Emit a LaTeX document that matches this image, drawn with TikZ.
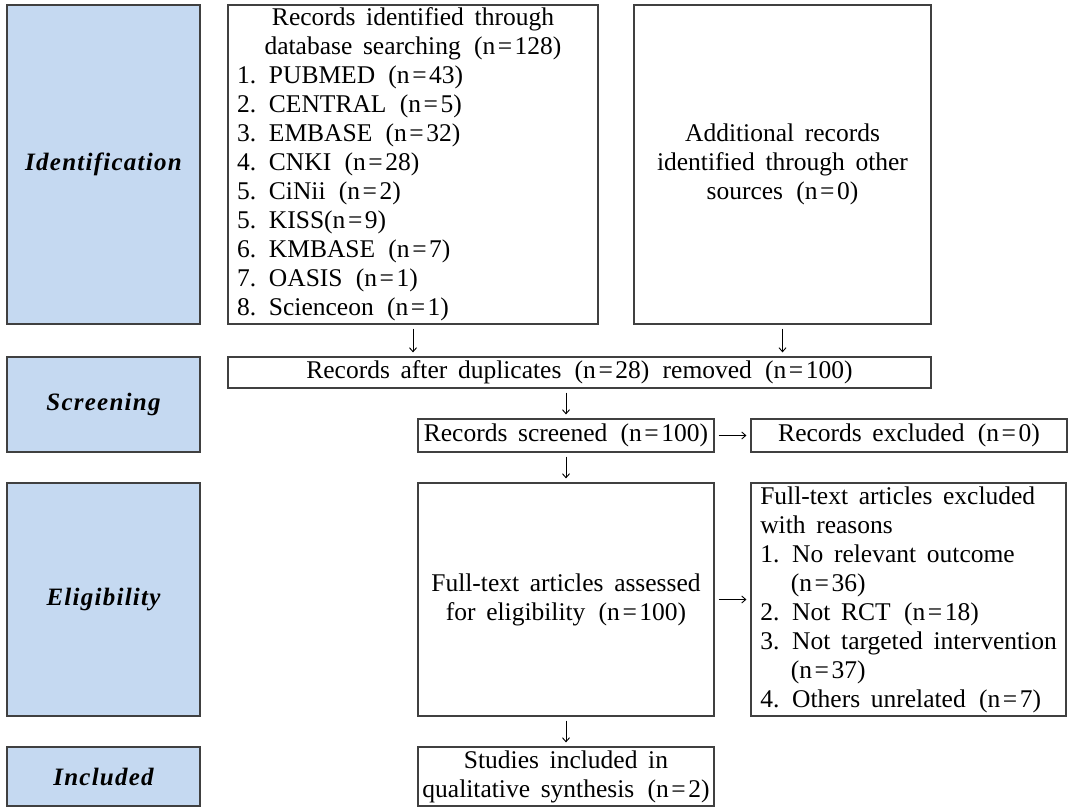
\documentclass[tikz,border=0pt]{standalone}
\usepackage{fontspec}
\setmainfont{Liberation Serif}
\newfontfamily\labfont[LetterSpace=5]{Liberation Serif}
\usetikzlibrary{arrows.meta}
\definecolor{labfill}{HTML}{C5D9F1}
\definecolor{edgegray}{HTML}{404040}
\newcommand\nv[1]{\hspace{.1em}(n\hspace{.1em}=\hspace{.1em}#1)}
\newcommand\nvq[1]{(n\hspace{.1em}=\hspace{.1em}#1)}
\begin{document}
\begin{tikzpicture}[x=1pt,y=-1pt,
  box/.style={draw=edgegray, line width=1.2pt, fill=white, inner sep=0pt,
    font={\fontsize{25.5}{29}\selectfont\spaceskip=.42em\relax}, align=center},
  lab/.style={draw=edgegray, line width=1.2pt, fill=labfill, inner sep=0pt,
    minimum width=193pt, font={\labfont\fontsize{25}{29}\selectfont\bfseries\itshape}},
  arr/.style={line width=0.9pt, -{Straight Barb[length=4pt,width=7pt]},
    shorten <=4pt, shorten >=4pt}]
\useasboundingbox (0,0) rectangle (1068,808);

% stage labels
\node[lab, minimum height=319pt] (lid) at (103.5,164.5) {Identification};
\node[lab, minimum height=95pt] (lscr) at (103.5,404.5) {Screening};
\node[lab, minimum height=233pt] (lel) at (103.5,599.5) {Eligibility};
\node[lab, minimum height=59pt] (lin) at (103.5,776.5) {Included};

% flow boxes
\node[box, minimum width=370pt, minimum height=319pt] (rid) at (413,164.5)
  {Records identified through\\database searching \nv{128}\\
   \makebox[352pt][l]{1. PUBMED \nv{43}}\\
   \makebox[352pt][l]{2. CENTRAL \nv{5}}\\
   \makebox[352pt][l]{3. EMBASE \nv{32}}\\
   \makebox[352pt][l]{4. CNKI \nv{28}}\\
   \makebox[352pt][l]{5. CiNii \nv{2}}\\
   \makebox[352pt][l]{5. KISS\nvq{9}}\\
   \makebox[352pt][l]{6. KMBASE \nv{7}}\\
   \makebox[352pt][l]{7. OASIS \nv{1}}\\
   \makebox[352pt][l]{8. Scienceon \nv{1}}};
\node[box, minimum width=297pt, minimum height=319pt] (add) at (782.5,164.5)
  {Additional records\\identified through other\\sources \nv{0}};
\node[box, minimum width=703pt, minimum height=31pt] (dup) at (579.5,372.5)
  {Records after duplicates \nv{28}\hspace{.1em} removed \nv{100}};
\node[box, minimum width=296pt, minimum height=33pt] (scr) at (566,435.5)
  {Records screened \nv{100}};
\node[box, minimum width=316pt, minimum height=33pt] (exc) at (909,435.5)
  {Records excluded \nv{0}};
\node[box, minimum width=296pt, minimum height=233pt] (ass) at (566,599.5)
  {Full-text articles assessed\\for eligibility \nv{100}};
\node[box, minimum width=315pt, minimum height=233pt, align=left] (fex) at (908.5,599.5)
  {Full-text articles excluded\\with reasons\\1. No relevant outcome\\
   \hspace*{1.2em}\nvq{36}\\2. Not RCT \nv{18}\\3. Not targeted intervention\\
   \hspace*{1.2em}\nvq{37}\\4. Others unrelated \nv{7}};
\node[box, minimum width=296pt, minimum height=59pt] (stu) at (566,776.5)
  {Studies included in\\qualitative synthesis \nv{2}};

% connectors
\draw[arr] (rid.south) -- (rid.south |- dup.north);
\draw[arr] (add.south) -- (add.south |- dup.north);
\draw[arr] (scr.north |- dup.south) -- (scr.north);
\draw[arr] (scr.east) -- (exc.west);
\draw[arr] (scr.south) -- (ass.north);
\draw[arr] (ass.east) -- (fex.west);
\draw[arr] (ass.south) -- (stu.north);
\end{tikzpicture}
\end{document}
